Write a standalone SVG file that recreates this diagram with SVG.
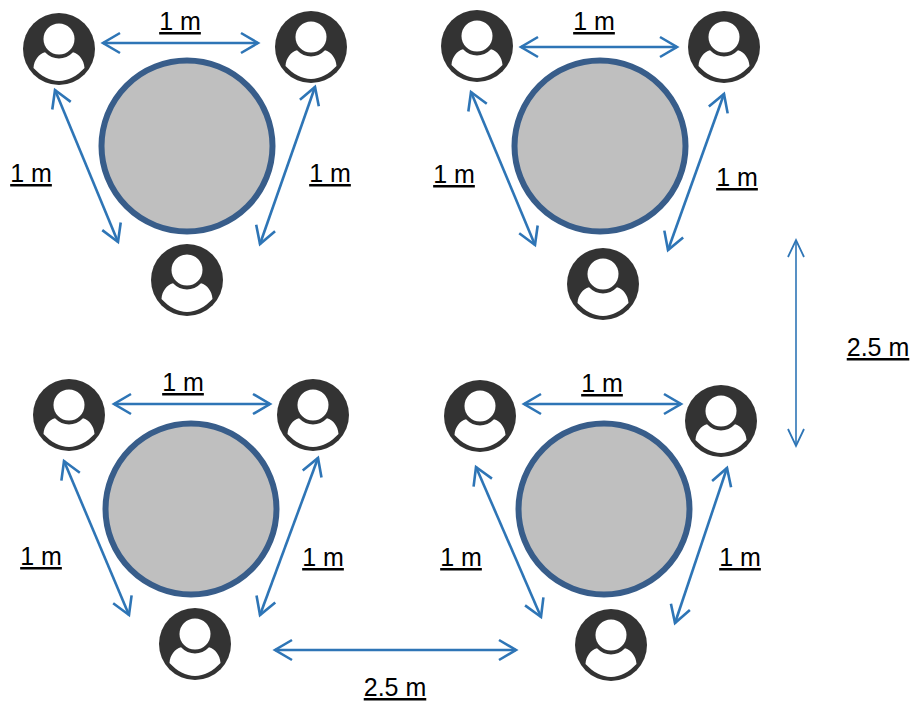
<svg xmlns="http://www.w3.org/2000/svg" width="914" height="702" viewBox="0 0 914 702">
<style>
.table{fill:#bfbfbf;stroke:#385d8a;stroke-width:6}
.arrow{fill:none;stroke:#2e75b6;stroke-width:2.6;marker-start:url(#ah);marker-end:url(#ah)}
.thin{stroke-width:1.6;marker-start:url(#ahthin);marker-end:url(#ahthin)}
.label{font-family:"Liberation Sans",Arial,sans-serif;font-size:25px;fill:#000;text-decoration:underline;text-anchor:middle}
</style>
<defs>
<marker id="ah" viewBox="-20 -12 24 24" markerUnits="userSpaceOnUse" markerWidth="24" markerHeight="24" refX="0" refY="0" orient="auto-start-reverse">
<path d="M-17,-10 L0,0 L-17,10" fill="none" stroke="#2e75b6" stroke-width="2.6"/>
</marker>
<marker id="ahthin" viewBox="-20 -12 24 24" markerUnits="userSpaceOnUse" markerWidth="24" markerHeight="24" refX="0" refY="0" orient="auto-start-reverse">
<path d="M-17,-8 L0,0 L-17,8" fill="none" stroke="#2e75b6" stroke-width="1.8"/>
</marker>
<g id="person">
<circle r="36" fill="#333"/>
<circle cy="-10" r="15.5" fill="#fff"/>
<path d="M-14,3.300 C-10,7.500 -5,9.500 0,9.500 C5,9.500 10,7.500 14,3.300 C20,5 25,11 25.500,19 C18,27 9,32 0,32 C-9,32 -18,27 -25.500,19 C-25,11 -20,5 -14,3.300 Z" fill="#fff"/>
</g>
</defs>
<g id="connectors">
<line class="arrow" x1="103" y1="43" x2="258" y2="43"/>
<line class="arrow" x1="55" y1="90" x2="118" y2="242"/>
<line class="arrow" x1="315" y1="87" x2="260" y2="244"/>
<line class="arrow" x1="521" y1="47" x2="677" y2="47"/>
<line class="arrow" x1="471" y1="92" x2="535" y2="245"/>
<line class="arrow" x1="724" y1="94" x2="668" y2="250"/>
<line class="arrow" x1="114" y1="404" x2="270" y2="404"/>
<line class="arrow" x1="64" y1="461" x2="129" y2="615"/>
<line class="arrow" x1="318" y1="458" x2="260" y2="615"/>
<line class="arrow" x1="524" y1="404" x2="681" y2="404"/>
<line class="arrow" x1="476" y1="467" x2="541" y2="617"/>
<line class="arrow" x1="727" y1="468" x2="675" y2="623"/>
<line class="arrow thin" x1="796" y1="240" x2="796" y2="446"/>
<line class="arrow" x1="275" y1="650" x2="516" y2="650"/>
</g>
<g id="table-tl"><circle class="table" cx="187" cy="146" r="85.5"/></g>
<g id="table-tr"><circle class="table" cx="600" cy="146" r="85.5"/></g>
<g id="table-bl"><circle class="table" cx="191" cy="509" r="85.5"/></g>
<g id="table-br"><circle class="table" cx="604" cy="509" r="85.5"/></g>
<g id="person-1"><use href="#person" x="59" y="49"/></g>
<g id="person-2"><use href="#person" x="311" y="47"/></g>
<g id="person-3"><use href="#person" x="187" y="280"/></g>
<g id="person-4"><use href="#person" x="477" y="46"/></g>
<g id="person-5"><use href="#person" x="724" y="47"/></g>
<g id="person-6"><use href="#person" x="603" y="284"/></g>
<g id="person-7"><use href="#person" x="69" y="415"/></g>
<g id="person-8"><use href="#person" x="313" y="415"/></g>
<g id="person-9"><use href="#person" x="195" y="644"/></g>
<g id="person-10"><use href="#person" x="480" y="416"/></g>
<g id="person-11"><use href="#person" x="721" y="421"/></g>
<g id="person-12"><use href="#person" x="611" y="645"/></g>
<g id="labels">
<text class="label" x="180" y="30">1 m</text>
<text class="label" x="31" y="182">1 m</text>
<text class="label" x="330" y="182">1 m</text>
<text class="label" x="594" y="30">1 m</text>
<text class="label" x="454" y="183">1 m</text>
<text class="label" x="737" y="186">1 m</text>
<text class="label" x="183" y="391">1 m</text>
<text class="label" x="41" y="565">1 m</text>
<text class="label" x="323" y="566">1 m</text>
<text class="label" x="602" y="392">1 m</text>
<text class="label" x="461" y="566">1 m</text>
<text class="label" x="740" y="566">1 m</text>
<text class="label" x="878" y="356">2.5 m</text>
<text class="label" x="395" y="696">2.5 m</text>
</g>
</svg>
